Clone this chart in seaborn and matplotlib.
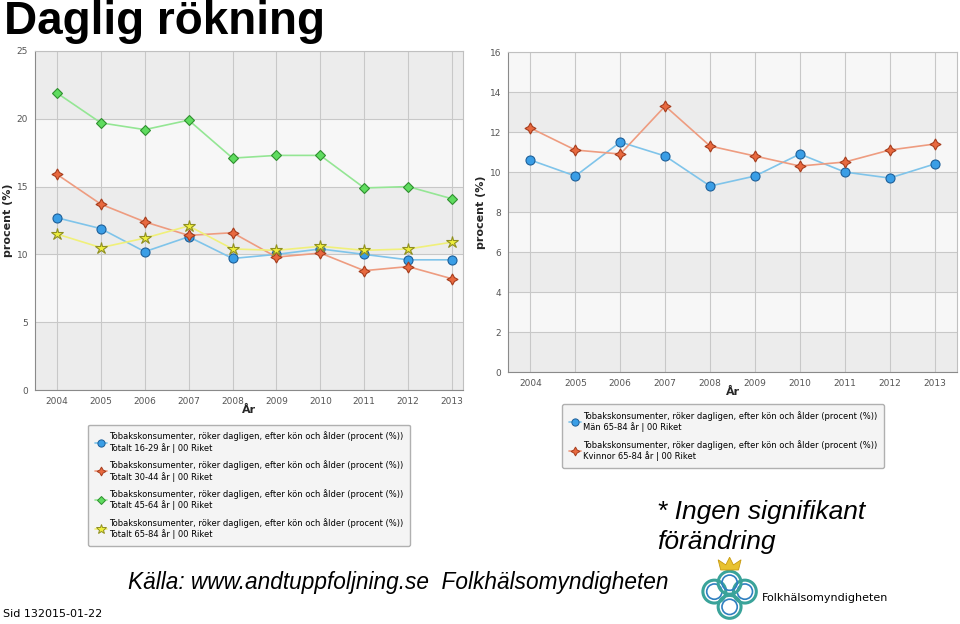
import matplotlib
matplotlib.use("Agg")
import matplotlib.pyplot as plt
from matplotlib.lines import Line2D
from matplotlib.patches import Circle, Polygon
import seaborn as sns

# data
years = [2004, 2005, 2006, 2007, 2008, 2009, 2010, 2011, 2012, 2013]

totalt_16_29 = [12.7, 11.9, 10.2, 11.3, 9.7, 10.0, 10.4, 10.0, 9.6, 9.6]
totalt_30_44 = [15.9, 13.7, 12.4, 11.4, 11.6, 9.8, 10.1, 8.8, 9.1, 8.2]
totalt_45_64 = [21.9, 19.7, 19.2, 19.9, 17.1, 17.3, 17.3, 14.9, 15.0, 14.1]
totalt_65_84 = [11.5, 10.5, 11.2, 12.1, 10.4, 10.3, 10.6, 10.3, 10.4, 10.9]

man_65_84 = [10.6, 9.8, 11.5, 10.8, 9.3, 9.8, 10.9, 10.0, 9.7, 10.4]
kvinnor_65_84 = [12.2, 11.1, 10.9, 13.3, 11.3, 10.8, 10.3, 10.5, 11.1, 11.4]

legend_head = "Tobakskonsumenter, röker dagligen, efter kön och ålder (procent (%))"
left_groups = ["Totalt 16-29 år | 00 Riket", "Totalt 30-44 år | 00 Riket",
               "Totalt 45-64 år | 00 Riket", "Totalt 65-84 år | 00 Riket"]
right_groups = ["Män 65-84 år | 00 Riket", "Kvinnor 65-84 år | 00 Riket"]

# marker / colour styles
blue = dict(line="#7fc4ea", face="#3a9ee6", edge="#1d5f99", marker="o", ms=6.5)
red = dict(line="#ee9c80", face="#e8693f", edge="#a63c1c", marker=(4, 1, 0), ms=8)
green = dict(line="#94e694", face="#5fdc5f", edge="#2f8f2f", marker="D", ms=5.5)
yellow = dict(line="#f0f07a", face="#eeee3c", edge="#8f8f20", marker="*", ms=9)

sns.set_style("white")
plt.rcParams['font.family'] = ['DejaVu Sans']
plt.rcParams['text.color'] = 'black'

fig = plt.figure(figsize=(9.6, 6.24), dpi=100)


def draw_panel(ax, series, ymax, step, xmax, lab_x):
    n = int(ymax / step)
    for i in range(n):
        ax.axhspan(i * step, (i + 1) * step, color="#ececec" if i % 2 == 0 else "#f7f7f7", zorder=0, lw=0)
    for vals, st in series:
        sns.lineplot(x=years, y=vals, ax=ax, color=st["line"], lw=1.2, marker=st["marker"],
                     markersize=st["ms"], markerfacecolor=st["face"], markeredgecolor=st["edge"],
                     markeredgewidth=0.8, legend=False, zorder=3)
    ax.set_xlim(2003.5, xmax)
    ax.set_ylim(0, ymax)
    ax.set_xticks(years)
    ax.set_yticks(range(0, ymax + 1, step))
    ax.grid(True, color="#c8c8c8", lw=0.8, zorder=1)
    ax.set_axisbelow(True)
    ax.tick_params(labelsize=6.5, labelcolor="#555555", length=3, color="#999999", pad=2)
    for s in ["left", "bottom"]:
        ax.spines[s].set_color("#8a8a8a")
    for s in ["top", "right"]:
        ax.spines[s].set_color("#c0c0c0")
    ax.set_xlabel("År", fontsize=8, fontweight="bold", labelpad=-1)
    ax.set_ylabel("procent (%)", fontsize=8, fontweight="bold")
    ax.yaxis.set_label_coords(lab_x, 0.5)


def make_legend(ax, series, groups, anchor):
    handles = [Line2D([0], [0], color=st["line"], lw=1.2, marker=st["marker"], markersize=st["ms"] * 0.8,
                      markerfacecolor=st["face"], markeredgecolor=st["edge"], markeredgewidth=0.7)
               for _, st in series]
    labels = [legend_head + "\n" + g for g in groups]
    leg = ax.legend(handles, labels, loc="upper left", bbox_to_anchor=anchor, bbox_transform=fig.transFigure,
                    fontsize=6, frameon=True, fancybox=True, edgecolor="#b0b0b0", facecolor="#f4f4f4",
                    framealpha=1, handlelength=1.4, handletextpad=0.3, labelspacing=0.9,
                    borderpad=0.8)
    leg.get_frame().set_linewidth(1.0)


# left panel: totals by age
ax1 = fig.add_axes([0.0365, 0.375, 0.4458, 0.5433])
left_series = [(totalt_16_29, blue), (totalt_30_44, red), (totalt_45_64, green), (totalt_65_84, yellow)]
draw_panel(ax1, left_series, 25, 5, 2013.25, -22 / 428)
make_legend(ax1, left_series, left_groups, (0.0875, 0.326))

# right panel: men / women 65-84
ax2 = fig.add_axes([0.5292, 0.4038, 0.4677, 0.5128])
right_series = [(man_65_84, blue), (kvinnor_65_84, red)]
draw_panel(ax2, right_series, 16, 2, 2013.5, -22 / 449)
make_legend(ax2, right_series, right_groups, (0.5813, 0.359))

# slide texts
fig.text(0.004, 1.0, "Daglig rökning", fontsize=33, fontweight="bold", va="top", ha="left",
         family="Liberation Sans")
fig.text(0.684, 1 - 512 / 624, "* Ingen signifikant", fontsize=19, style="italic", va="center",
         family="Liberation Sans")
fig.text(0.684, 1 - 542 / 624, "förändring", fontsize=19, style="italic", va="center",
         family="Liberation Sans")
fig.text(0.133, 1 - 582 / 624, "Källa: www.andtuppfoljning.se  Folkhälsomyndigheten", fontsize=16.3,
         style="italic", va="center", family="Liberation Sans")
fig.text(0.003, 1 - 614 / 624, "Sid 132015-01-22", fontsize=8, va="center")

# logo (rough)
lax = fig.add_axes([0.727, 0.003, 0.066, 0.106])
lax.set_xlim(-1.2, 1.2)
lax.set_ylim(-1.2, 1.4)
lax.set_aspect("equal")
lax.axis("off")
for cx, cy in [(-0.6, 0), (0.6, 0), (0, -0.6), (0, 0.35)]:
    lax.add_patch(Circle((cx, cy), 0.45, fill=False, ec="#3aa39a", lw=2.2))
    lax.add_patch(Circle((cx, cy), 0.3, fill=False, ec="#2f7fc0", lw=1.2))
lax.add_patch(Polygon([(-0.35, 0.85), (0.35, 0.85), (0.45, 1.25), (0.15, 1.05), (0, 1.35),
                       (-0.15, 1.05), (-0.45, 1.25)], closed=True, fc="#e8c230", ec="#c89a10", lw=0.6))
fig.text(0.794, 1 - 598 / 624, "Folkhälsomyndigheten", fontsize=8, va="center")

fig.savefig("out.png", dpi=100)
